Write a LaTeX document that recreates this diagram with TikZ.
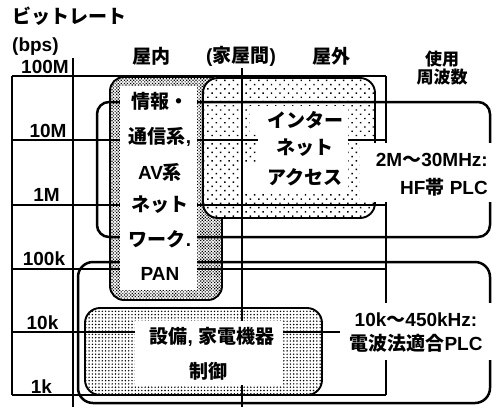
\documentclass[tikz,border=0pt]{standalone}
\usepackage{fontspec}
\setmainfont{Liberation Sans}
\newfontfamily\jp{Noto Sans CJK JP Bold}
\usetikzlibrary{patterns.meta}
\tikzset{
  gridline/.style={line width=2.8pt},
  bigbox/.style={draw, line width=2.5pt},
  patbox/.style={draw, line width=1.9pt, preaction={fill=white}},
  densepat/.style={pattern={Dots[distance=2.2pt,radius=0.85pt,angle=45]}},
  sparsepat/.style={pattern={Dots[distance=6pt,radius=1pt,angle=45]}},
  gridpat/.style={pattern={Dots[distance=3.3pt,radius=0.8pt]}},
  wbg/.style={fill=white, draw=none},
  lbl/.style={inner sep=0pt, font=\bfseries\fontsize{19}{19}\selectfont},
  smalllbl/.style={inner sep=0pt, font=\bfseries\fontsize{17}{17}\selectfont},
}
\begin{document}
\begin{tikzpicture}[x=1pt,y=-1pt]
\useasboundingbox (0,0) rectangle (492,407);
% patterned boxes
\draw[patbox, densepat, rounded corners=14pt] (110,77) rectangle (222,300);
\draw[patbox, sparsepat, rounded corners=15pt] (203,78) rectangle (375,218);
\draw[patbox, gridpat, rounded corners=15pt] (85,308) rectangle (322,395);
% frequency boxes
\draw[bigbox, rounded corners=12pt] (97,102) rectangle (490,237);
\draw[bigbox, rounded corners=15pt] (78,262) rectangle (490,403);
% grid
\draw[gridline] (12,76) -- (386,76);
\draw[gridline] (12,140) -- (386,140);
\draw[gridline] (12,205) -- (386,205);
\draw[gridline] (12,269) -- (386,269);
\draw[gridline] (12,332) -- (386,332);
\draw[gridline] (12,395) -- (386,395);
\draw[gridline] (12,76) -- (12,395);
\draw[gridline] (73,58) -- (73,407);
\draw[gridline] (242,68) -- (242,407);
\draw[gridline] (386,76) -- (386,395);
% white text areas
\fill[wbg] (120,86) rectangle (197,290);
\fill[wbg] (250,106) rectangle (348,134);
\fill[wbg] (258,134) rectangle (348,163);
\fill[wbg] (243,163) rectangle (348,193);
\fill[wbg] (135,321) rectangle (283,385);
\fill[wbg] (360,143) rectangle (492,202);
\fill[wbg] (340,303) rectangle (492,360);
% labels
\node[lbl, anchor=west] (title) at (12,16) {\jp ビットレート};
\node[lbl, anchor=west] (bps) at (12,47) {(bps)};
\node[lbl] (m100) at (45,67) {100M};
\node[lbl] (m10) at (48,131) {10M};
\node[lbl] (m1) at (46.5,195) {1M};
\node[lbl] (k100) at (44,259) {100k};
\node[lbl] (k10) at (42.5,323) {10k};
\node[lbl] (k1) at (41.5,387) {1k};
\node[lbl] (indoor) at (151,56) {\jp 屋内};
\node[lbl] (between) at (241,56) {({\jp 家屋間})};
\node[lbl] (outdoor) at (331,56) {\jp 屋外};
\node[smalllbl] (use1) at (442,59) {\jp 使用};
\node[smalllbl] (use2) at (442,77) {\jp 周波数};
\node[lbl] (i1) at (160,101) {\jp 情報・};
\node[lbl] (i2) at (160,137) {{\jp 通信系},};
\node[lbl] (i3) at (160,172) {AV{\jp 系}};
\node[lbl] (i4) at (160,205) {\jp ネット};
\node[lbl] (i5) at (160,239) {{\jp ワーク}.};
\node[lbl] (i6) at (160,274) {PAN};
\node[lbl] (n1) at (305,120) {\jp インター};
\node[lbl] (n2) at (305,148) {\jp ネット};
\node[lbl] (n3) at (305,177) {\jp アクセス};
\node[lbl, anchor=east] (hf1) at (488,160) {2M{\jp 〜}30MHz:};
\node[lbl, anchor=east] (hf2) at (488,187) {HF{\jp 帯} PLC};
\node[lbl] (lf1) at (416,320) {10k{\jp 〜}450kHz:};
\node[lbl] (lf2) at (416,343) {{\jp 電波法適合}PLC};
\node[lbl] (c1) at (212,337) {{\jp 設備}, {\jp 家電機器}};
\node[lbl] (c2) at (208,371) {\jp 制御};
\end{tikzpicture}
\end{document}
